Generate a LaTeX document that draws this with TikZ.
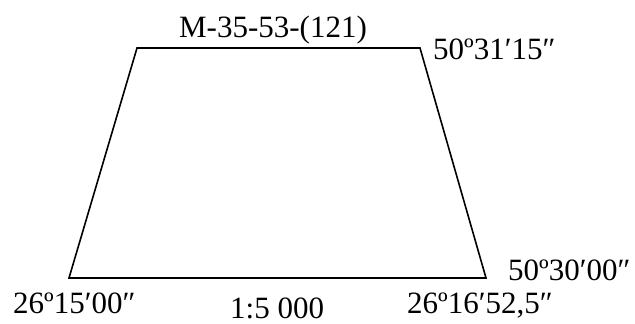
\documentclass[tikz,border=0pt]{standalone}
\usepackage{fontspec}
\setmainfont{Liberation Serif}
\begin{document}
\begin{tikzpicture}[x=1pt,y=-1pt,
  lbl/.style={inner sep=0pt,anchor=base west,font=\fontsize{31}{36}\selectfont},
  edge/.style={line width=1.6pt,line join=miter}]
\useasboundingbox (0,0) rectangle (635,324);
\coordinate (tl) at (137,48);
\coordinate (tr) at (420,48);
\coordinate (br) at (486,278);
\coordinate (bl) at (69,278);
\draw[edge] (tl) -- (tr) -- (br) -- (bl) -- cycle;
\node[lbl,anchor=base] (title) at (273,37) {M-35-53-(121)};
\node[lbl] (ne) at (433,59) {50º31′15″};
\node[lbl] (se) at (508,280) {50º30′00″};
\node[lbl] (sw) at (13,313) {26º15′00″};
\node[lbl] (sc) at (230,318) {1:5 000};
\node[lbl] (s2) at (407,313) {26º16′52,5″};
\end{tikzpicture}
\end{document}
